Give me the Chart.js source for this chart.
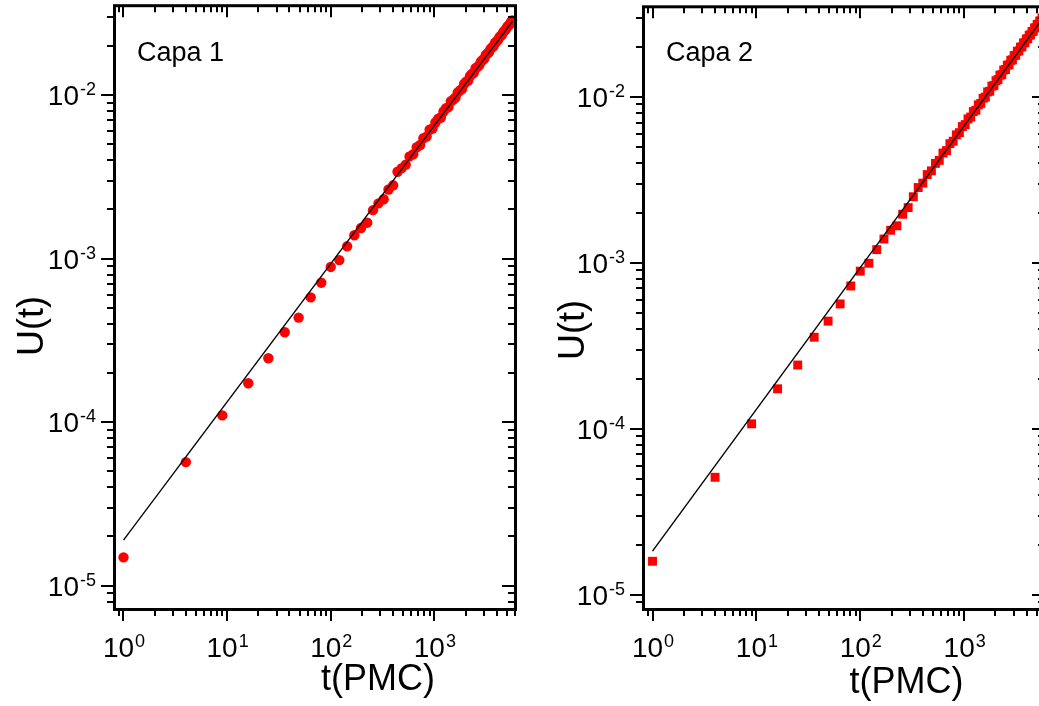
<!DOCTYPE html>
<html>
<head>
<meta charset="utf-8">
<script src="https://cdn.jsdelivr.net/npm/chart.js@4.4.0/dist/chart.umd.min.js"></script>
<style>
html,body{margin:0;padding:0;background:#fff;overflow:hidden}
body{width:1039px;height:706px;position:relative}
canvas{position:absolute;top:0}
#c1{left:0}
#c2{left:540px}
</style>
</head>
<body>
<canvas id="c1" width="540" height="706"></canvas>
<canvas id="c2" width="550" height="706"></canvas>
<script>

// t in PMC steps (same for both layers)
let tPMC=[1,4,9,16,25,36,49,64,81,100,121,144,169,196,225,256,289,324,361,400,441,484,529,576,625,676,729,784,841,900,961,1024,1089,1156,1225,1296,1369,1444,1521,1600,1681,1764,1849,1936,2025,2116,2209,2304,2401,2500,2601,2704,2809,2916,3025,3136,3249,3364,3481,3600,3721,3844,3969,4096,4225,4356,4489,4624,4761,4900,5041,5184,5329,5476,5625]

let capa1U=[1.49e-5,5.7e-5,1.10e-4,1.73e-4,2.46e-4,3.55e-4,4.36e-4,5.8e-4,7.13e-4,8.9e-4,9.8e-4,1.19e-3,1.39e-3,1.54e-3,1.66e-3,1.98e-3,2.18e-3,2.31e-3,2.65e-3,2.81e-3,3.4e-3,
3.58e-3,3.76e-3,4.22e-3,4.35e-3,4.80e-3,4.96e-3,5.45e-3,5.58e-3,6.14e-3,6.25e-3,6.80e-3,7.18e-3,7.30e-3,7.95e-3,8.32e-3,8.45e-3,9.18e-3,9.40e-3,9.68e-3,
1.04e-2,1.07e-2,1.09e-2,1.17e-2,1.21e-2,1.23e-2,1.31e-2,1.35e-2,1.37e-2,1.46e-2,1.49e-2,1.52e-2,1.60e-2,1.64e-2,1.67e-2,1.76e-2,1.80e-2,1.83e-2,1.92e-2,1.96e-2,
1.99e-2,2.09e-2,2.13e-2,2.17e-2,2.25e-2,2.30e-2,2.34e-2,2.43e-2,2.48e-2,2.53e-2,2.61e-2,2.66e-2,2.71e-2,2.80e-2,2.86e-2]

let capa2U=[1.59e-5,5.1e-5,1.07e-4,1.74e-4,2.42e-4,3.56e-4,4.45e-4,5.65e-4,7.25e-4,8.9e-4,9.93e-4,1.2e-3,1.39e-3,1.57e-3,1.67e-3,1.96e-3,2.15e-3,
2.50e-3,2.84e-3,3.02e-3,3.40e-3,3.58e-3,3.97e-3,4.14e-3,4.58e-3,4.74e-3,5.22e-3,5.40e-3,5.90e-3,6.08e-3,6.62e-3,6.80e-3,7.36e-3,7.55e-3,8.15e-3,8.30e-3,8.95e-3,9.12e-3,9.80e-3,9.96e-3,
1.07e-2,1.08e-2,1.16e-2,1.17e-2,1.25e-2,1.27e-2,1.35e-2,1.36e-2,1.45e-2,1.46e-2,1.55e-2,1.56e-2,1.66e-2,1.67e-2,1.77e-2,1.78e-2,1.88e-2,1.89e-2,1.99e-2,2.00e-2,
2.11e-2,2.12e-2,2.23e-2,2.24e-2,2.35e-2,2.36e-2,2.47e-2,2.48e-2,2.60e-2,2.61e-2,2.73e-2,2.74e-2,2.86e-2,2.87e-2,2.99e-2]

// power law fits, end points
let fitT=[1,5700]
let fit1U=[1.9e-5,2.84e-2]
let fit2U=[1.83e-5,2.96e-2]

let xTickExp=[0,1,2,3]
let yTickExp=[-5,-4,-3,-2]
let panelLabels=['Capa 1','Capa 2']
let xTitle='t(PMC)'
let yTitle='U(t)'

const FONT='"Liberation Sans", Arial, sans-serif'

// frame, ticks and labels like the Origin plot
const frame={
id:'frame',
afterDatasetsDraw(chart,args,o){
let ctx=chart.ctx,a=chart.chartArea,xs=chart.scales.x,ys=chart.scales.y
ctx.save()
ctx.strokeStyle='#000'
ctx.lineWidth=2
ctx.beginPath()
for(let e=-1;e<=4;e++)for(let k=1;k<10;k++){
let v=k*Math.pow(10,e)
if(v<xs.min||v>xs.max)continue
let p=Math.round(xs.getPixelForValue(v))
let len=k==1?12:7
ctx.moveTo(p,a.bottom);ctx.lineTo(p,a.bottom+len)
ctx.moveTo(p,a.top);ctx.lineTo(p,a.top+len)
}
for(let e=-6;e<=-1;e++)for(let k=1;k<10;k++){
let v=k*Math.pow(10,e)
if(v<ys.min||v>ys.max)continue
let p=Math.round(ys.getPixelForValue(v))
let len=k==1?13:7
ctx.moveTo(a.left-len,p);ctx.lineTo(a.left,p)
ctx.moveTo(a.right-len,p);ctx.lineTo(a.right,p)
}
ctx.stroke()
ctx.lineWidth=3
ctx.strokeRect(a.left+0.5,a.top+0.5,a.right-a.left,a.bottom-a.top)

ctx.fillStyle='#000'
ctx.textBaseline='alphabetic'
let big='28px '+FONT,small='18px '+FONT
xTickExp.forEach(e=>{
let p=xs.getPixelForValue(Math.pow(10,e))
let s=String(e)
ctx.font=big;let w1=ctx.measureText('10').width
ctx.font=small;let w2=ctx.measureText(s).width
let x0=p-(w1+w2)/2
ctx.textAlign='left'
ctx.font=big;ctx.fillText('10',x0,a.bottom+48)
ctx.font=small;ctx.fillText(s,x0+w1+1,a.bottom+38)
})
yTickExp.forEach(e=>{
let p=ys.getPixelForValue(Math.pow(10,e))
let s=String(e)
ctx.textAlign='right'
ctx.font=small;let w2=ctx.measureText(s).width
ctx.fillText(s,a.left-18,p)
ctx.font=big;ctx.fillText('10',a.left-19-w2,p+10)
})

ctx.font='36px '+FONT
ctx.textAlign='center'
ctx.fillText(xTitle,o.xTitleX,o.xTitleY)
ctx.save()
ctx.translate(o.yTitleX,o.yTitleY)
ctx.rotate(-Math.PI/2)
ctx.fillText(yTitle,0,0)
ctx.restore()

ctx.font='27px '+FONT
ctx.textAlign='left'
ctx.fillText(o.label,o.labelX,o.labelY)
ctx.restore()
}
}

function makeChart(id,uData,fitU,yMin,yMax,style,radius,deco){
return new Chart(document.getElementById(id),{
type:'scatter',
data:{datasets:[
{data:fitT.map((t,i)=>({x:t,y:fitU[i]})),showLine:true,borderColor:'#000',borderWidth:1.4,pointRadius:0,order:0},
{data:tPMC.map((t,i)=>({x:t,y:uData[i]})),pointStyle:style,pointRadius:radius,pointHoverRadius:radius,backgroundColor:'#ff0000',borderWidth:0,clip:false,order:1}
]},
options:{
responsive:false,animation:false,devicePixelRatio:1,
layout:{padding:deco.pad},
plugins:{legend:{display:false},tooltip:{enabled:false},frame:deco},
scales:{
x:{type:'logarithmic',min:0.81,max:6000,display:false},
y:{type:'logarithmic',min:yMin,max:yMax,display:false}
}
},
plugins:[frame]
})
}

makeChart('c1',capa1U,fit1U,7.2e-6,0.0355,'circle',5.2,{
pad:{left:114,top:5,right:25,bottom:97},
xTitleX:378,xTitleY:690,yTitleX:43,yTitleY:326,
label:panelLabels[0],labelX:137,labelY:61})

makeChart('c2',capa2U,fit2U,8.2e-6,0.0351,'rect',6.3,{
pad:{left:103,top:6,right:45,bottom:97},
xTitleX:366.5,xTitleY:693,yTitleX:44,yTitleY:330,
label:panelLabels[1],labelX:126,labelY:61})

</script>
</body>
</html>
